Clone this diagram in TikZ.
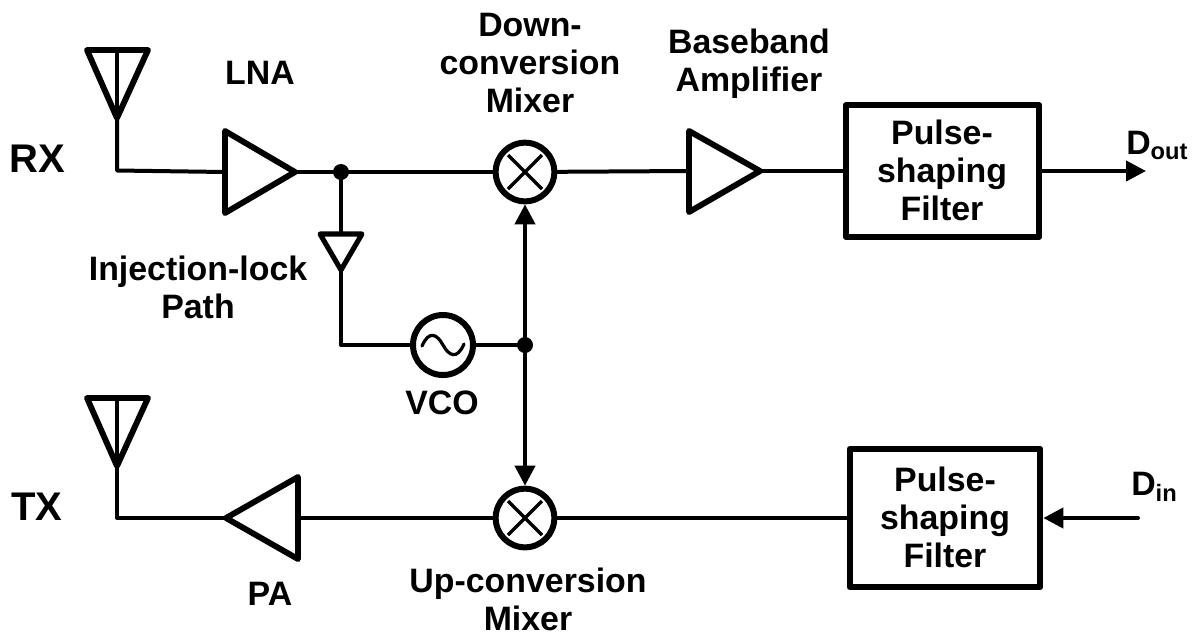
\documentclass[tikz,border=0pt]{standalone}
\usepackage{fontspec}
\setmainfont{Liberation Sans}
\usetikzlibrary{arrows.meta,calc}
\tikzset{
 wire/.style={line width=3pt,line cap=round,line join=round},
 arrowed/.style={wire,-{Triangle[length=15pt,width=15pt]}},
 amp/.style={line width=4.4pt,line join=round},
 lbl/.style={font=\bfseries\fontsize{25.4pt}{28.5pt}\selectfont,align=center,inner sep=0pt,text=black},
 biglbl/.style={lbl,font=\bfseries\fontsize{30pt}{32pt}\selectfont},
 blockbox/.style={draw,line width=4.5pt,line join=round,inner sep=0pt,fill=white},
 dotn/.style={circle,fill=black,inner sep=0pt,minimum size=12pt},
 mix/.style={circle,draw,line width=4.5pt,minimum size=44pt,inner sep=0pt,fill=white},
}
\begin{document}
\begin{tikzpicture}[x=0.75pt,y=-0.75pt]
\useasboundingbox (0,0) rectangle (1195,637);
\coordinate (rxant) at (117,118);
\coordinate (txant) at (117,466);
\coordinate (rxbend) at (117,170.5);
\coordinate (txbend) at (117,518);
\coordinate (lnain) at (225,172);
\coordinate (lnaout) at (295,172);
\coordinate (bbin) at (689,171);
\coordinate (bbout) at (760,171);
\coordinate (pain) at (298,518);
\coordinate (paout) at (226,518);
\coordinate (dout) at (1146,171);
\coordinate (din) at (1138,518);
\node[dotn] (j1) at (341,172) {};
\node[dotn] (j2) at (525,345) {};
\node[mix] (m1) at (525,172) {};
\node[mix] (m2) at (525,518) {};
\node[mix,minimum size=45pt] (vco) at (443,345) {};
\coordinate (ilin) at (341,234);
\coordinate (ilout) at (341,270);
\coordinate (ilbend) at (341,345);
\node[blockbox,minimum width=145pt,minimum height=99pt] (f1) at (942.5,171) {};
\node[blockbox,minimum width=143pt,minimum height=104pt] (f2) at (945,518) {};
\draw[wire] (rxant) -- (rxbend) -- (lnain);
\draw[wire] (lnaout) -- (j1) -- (m1);
\draw[wire] (m1) -- (bbin);
\draw[wire] (bbout) -- (f1);
\draw[arrowed] (f1) -- (dout);
\draw[wire] (j1) -- (ilin);
\draw[wire] (ilout) -- (ilbend) -- (vco);
\draw[wire] (vco) -- (j2);
\draw[arrowed] (j2) -- (m1);
\draw[arrowed] (j2) -- (m2);
\draw[wire] (f2) -- (m2);
\draw[wire] (m2) -- (pain);
\draw[wire] (paout) -- (txbend) -- (txant);
\draw[arrowed] (din) -- (f2);
\foreach \m in {m1,m2}{
 \draw[line width=2.6pt] ($(\m)+(-17,-17)$) -- ($(\m)+(17,17)$) ($(\m)+(17,-17)$) -- ($(\m)+(-17,17)$);
}
\draw[line width=2.4pt,line cap=round] ($(vco.center)+(-21,1)$) .. controls ($(vco.center)+(-14,-15)$) and ($(vco.center)+(-6,-11)$) .. (vco.center) .. controls ($(vco.center)+(6,11)$) and ($(vco.center)+(14,15)$) .. ($(vco.center)+(21,-1)$);
\draw[amp,fill=white] (lnain |- 0,131) -- (lnaout) -- (lnain |- 0,213) -- cycle;
\draw[amp,fill=white] (bbin |- 0,131) -- (bbout) -- (bbin |- 0,212) -- cycle;
\draw[amp,fill=white] (pain |- 0,477) -- (paout) -- (pain |- 0,559) -- cycle;
\draw[amp,line width=3.8pt,fill=white] (320,234) -- (362,234) -- (ilout) -- cycle;
\draw[amp] (87,50) -- (148,50) -- (rxant) -- cycle;
\draw[line width=2.6pt] (117,50) -- (rxant);
\draw[amp] (87,398) -- (148,398) -- (txant) -- cycle;
\draw[line width=2.6pt] (117,398) -- (txant);
\node[biglbl] (rx) at (37,159) {RX};
\node[biglbl] (tx) at (37,507) {TX};
\node[lbl] (lna) at (260,73) {LNA};
\node[lbl] (dcm) at (530,63) {Down-\\conversion\\Mixer};
\node[lbl] (bba) at (749,64) {Baseband\\Amplifier};
\node[lbl] (pf1) at (942,170) {Pulse-\\shaping\\Filter};
\node[lbl] (pf2) at (945,517) {Pulse-\\shaping\\Filter};
\node[lbl] (il) at (198,287) {Injection-lock\\Path};
\node[lbl] (vcol) at (442,403) {VCO};
\node[lbl] (pal) at (270,594) {PA};
\node[lbl] (ucm) at (528,599) {Up-conversion\\Mixer};
\node[lbl,anchor=west] (doutl) at (1126,145) {D\textsubscript{out}};
\node[lbl,anchor=west] (dinl) at (1131,487) {D\textsubscript{in}};
\end{tikzpicture}
\end{document}
